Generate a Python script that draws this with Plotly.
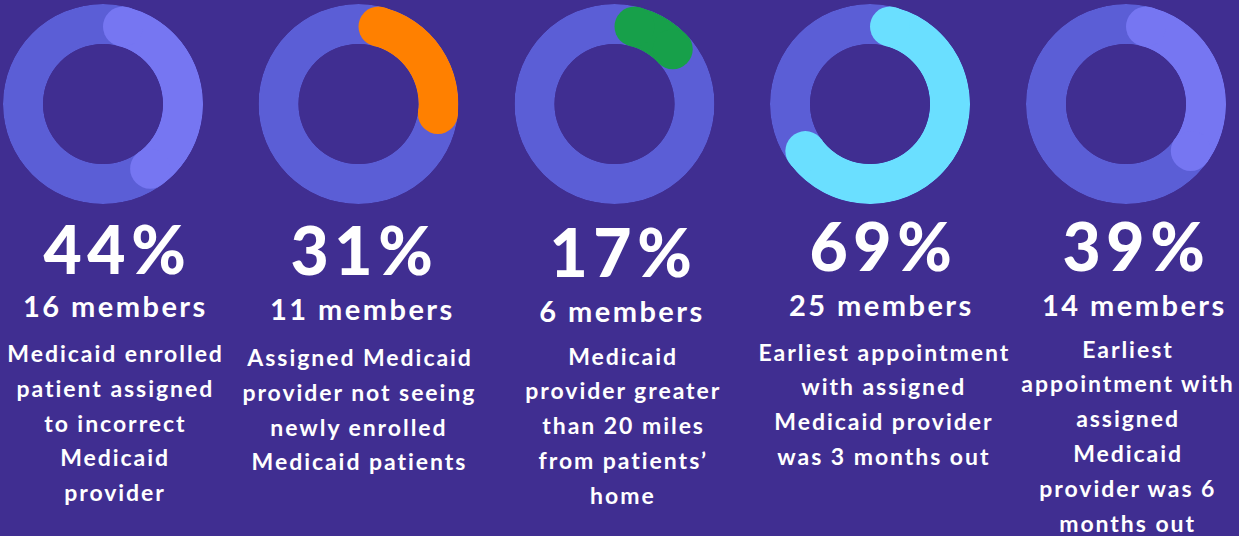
import math
import plotly.graph_objects as go

# ---- data ----
percents = [44, 31, 17, 69, 39]
members = [16, 11, 6, 25, 14]
descriptions = [
    ["Medicaid enrolled", "patient assigned", "to incorrect", "Medicaid", "provider"],
    ["Assigned Medicaid", "provider not seeing", "newly enrolled", "Medicaid patients"],
    ["Medicaid", "provider greater", "than 20 miles", "from patients\u2019", "home"],
    ["Earliest appointment", "with assigned", "Medicaid provider", "was 3 months out"],
    ["Earliest", "appointment with", "assigned", "Medicaid", "provider was 6", "months out"],
]
arc_colors = ["#7676F2", "#FF8000", "#17A04A", "#6ADFFF", "#7676F2"]

# ---- style / layout ----
W, H = 1239, 536
BG = "#402E91"
TRACK = "#5B5ED6"
FONT = "Lato"
donut_cx = [103, 358.5, 614.5, 870, 1126]
donut_cy = 104
R_OUT = 100
HOLE = 0.6
text_cx = [114, 361, 620, 880, 1133]
desc_cx = [114, 358, 622, 883, 1127]
pct_y = [248, 249, 251, 246, 246]
mem_y = [305.5, 308, 310, 304, 304]
desc_y0 = [353, 357, 355.5, 351.5, 348.5]
LINE = 34.8

ring_px = R_OUT * (1 - HOLE)
mid_px = R_OUT - ring_px / 2
cap_deg = math.degrees(math.asin((ring_px / 2) / mid_px))

fig = go.Figure()
annotations = []
for i, p in enumerate(percents):
    pid = "polar" if i == 0 else f"polar{i+1}"
    sub = pid
    fig.add_trace(go.Barpolar(r=[1], theta=[180], width=[360], base=0,
                              marker=dict(color=TRACK, line=dict(width=0)),
                              subplot=sub, hoverinfo="skip", showlegend=False))
    s = cap_deg
    e = p / 100 * 360 - cap_deg
    fig.add_trace(go.Barpolar(r=[1], theta=[(s + e) / 2], width=[e - s], base=0,
                              marker=dict(color=arc_colors[i], line=dict(width=0)),
                              subplot=sub, hoverinfo="skip", showlegend=False))
    fig.add_trace(go.Scatterpolar(r=[0.5, 0.5], theta=[s, e], mode="markers",
                                  marker=dict(color=arc_colors[i], size=ring_px, line=dict(width=0)),
                                  subplot=sub, hoverinfo="skip", showlegend=False))
    cx = donut_cx[i]
    fig.update_layout(**{pid: dict(
        domain=dict(x=[(cx - R_OUT) / W, (cx + R_OUT) / W],
                    y=[1 - (donut_cy + R_OUT) / H, 1 - (donut_cy - R_OUT) / H]),
        hole=HOLE,
        bgcolor="rgba(0,0,0,0)",
        radialaxis=dict(visible=False, range=[0, 1]),
        angularaxis=dict(visible=False, rotation=90, direction="clockwise"),
    )})

    tx = text_cx[i] / W
    annotations.append(dict(x=tx, y=1 - pct_y[i] / H, xref="paper", yref="paper",
                            text=f"{p}%", showarrow=False, xanchor="center", yanchor="middle",
                            font=dict(family=FONT, size=66, color="white", weight=900)))
    annotations.append(dict(x=tx, y=1 - mem_y[i] / H, xref="paper", yref="paper",
                            text=f"{members[i]} members", showarrow=False,
                            xanchor="center", yanchor="middle",
                            font=dict(family=FONT, size=29, color="white", weight=700)))
    for j, line in enumerate(descriptions[i]):
        annotations.append(dict(x=desc_cx[i] / W, y=1 - (desc_y0[i] + j * LINE) / H,
                                xref="paper", yref="paper",
                                text=line, showarrow=False, xanchor="center", yanchor="middle",
                                font=dict(family=FONT, size=23, color="white", weight=700)))

fig.update_layout(width=W, height=H, margin=dict(l=0, r=0, t=0, b=0),
                  paper_bgcolor=BG, plot_bgcolor=BG, annotations=annotations,
                  showlegend=False)

post = (
    "document.body.style.margin='0';document.body.style.overflow='hidden';"
    "document.body.style.background='" + BG + "';"
    "var gd=document.getElementById('{plot_id}');"
    "gd.querySelectorAll('.annotation-text').forEach(function(t){"
    "var fs=parseFloat(t.style.fontSize)||20;"
    "var ls=fs*0.085;"
    "t.setAttribute('letter-spacing',ls+'px');"
    "t.setAttribute('transform','translate('+(ls/2)+',0)');"
    "});"
)
fig.write_html("out.html", config={"displayModeBar": False}, post_script=post)
